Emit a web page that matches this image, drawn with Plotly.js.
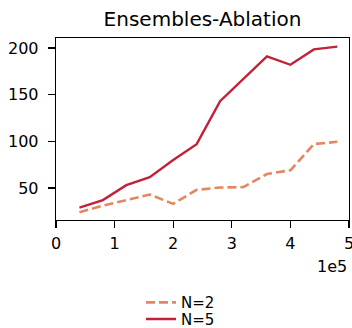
<!DOCTYPE html>
<html>
<head>
<meta charset="utf-8">
<script src="https://cdn.plot.ly/plotly-3.0.1.min.js"></script>
<style>html,body{margin:0;padding:0;background:#fff;}#chart{width:352px;height:328px;}</style>
</head>
<body>
<div id="chart"></div>
<script>
const steps = [40000, 80000, 120000, 160000, 200000, 240000, 280000, 320000, 360000, 400000, 440000, 480000];
const n2 = [24, 31, 37, 43, 33, 48, 50.5, 51, 65, 69, 97, 99.5];
const n5 = [29, 37, 53, 61.5, 80, 97, 143, 167, 191, 182, 198.5, 201.5];
const seriesNames = ['N=2', 'N=5'];
const xTickVals = [0, 100000, 200000, 300000, 400000, 500000];
const xTickText = ['0', '1', '2', '3', '4', '5'];
const yTickVals = [50, 100, 150, 200];

const font = {family: 'DejaVu Sans, sans-serif', size: 16, color: '#000'};
const legendFont = {family: 'DejaVu Sans, sans-serif', size: 15, color: '#000'};
const traces = [
  {x: steps, y: n2, name: seriesNames[0], mode: 'lines', legend: 'legend', line: {color: '#e2875f', width: 2.6, dash: '9px,4px'}},
  {x: steps, y: n5, name: seriesNames[1], mode: 'lines', legend: 'legend2', line: {color: '#c1223a', width: 2.4}}
];
const legendBase = {x: 0.29, xanchor: 'left', yanchor: 'middle', font: legendFont, bgcolor: 'rgba(0,0,0,0)', itemwidth: 30, borderwidth: 0};
const layout = {
  width: 352, height: 328,
  margin: {l: 56, r: 3, t: 38, b: 108, autoexpand: false},
  paper_bgcolor: '#fff', plot_bgcolor: '#fff',
  font: font,
  showlegend: true,
  title: {text: 'Ensembles-Ablation', font: {family: 'DejaVu Sans, sans-serif', size: 20, color: '#000'}, x: 0.5, xref: 'paper', xanchor: 'center', y: 0.942, yref: 'container', yanchor: 'middle'},
  xaxis: {range: [0, 500000], tickvals: xTickVals, ticktext: xTickText, ticks: 'outside', ticklen: 7, tickwidth: 1.2, tickcolor: '#000', ticklabelstandoff: 1,
          ticklabeloverflow: 'allow', automargin: false, showline: true, linecolor: '#000', linewidth: 1.3, mirror: true, showgrid: false, zeroline: false, tickfont: font},
  yaxis: {range: [15.7, 210.7], tickvals: yTickVals, ticks: 'outside', ticklen: 7, tickwidth: 1.2, tickcolor: '#000', ticklabelstandoff: 6, automargin: false,
          showline: true, linecolor: '#000', linewidth: 1.3, mirror: true, showgrid: false, zeroline: false, tickfont: font},
  legend: Object.assign({}, legendBase, {y: -0.454}),
  legend2: Object.assign({}, legendBase, {y: -0.545}),
  annotations: [{text: '1e5', xref: 'paper', yref: 'paper', x: 1.0, y: -0.253, xanchor: 'right', yanchor: 'middle', showarrow: false, font: font}]
};
Plotly.newPlot('chart', traces, layout, {displayModeBar: false, staticPlot: true});
</script>
</body>
</html>
